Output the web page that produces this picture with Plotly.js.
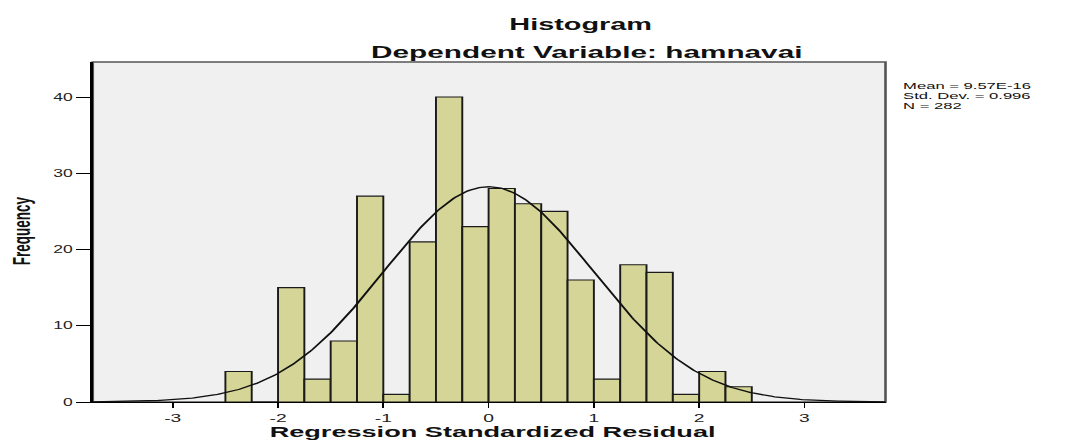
<!DOCTYPE html>
<html>
<head>
<meta charset="utf-8">
<script src="https://cdn.plot.ly/plotly-3.0.1.min.js"></script>
<style>
html,body{margin:0;padding:0;background:#ffffff;overflow:hidden;}
#chart{transform:scaleX(1.75);transform-origin:0 0;}
</style>
</head>
<body>
<div id="chart"></div>
<script>
// ---- data ----
const binLeft = [-2.5,-2.25,-2.0,-1.75,-1.5,-1.25,-1.0,-0.75,-0.5,-0.25,0,0.25,0.5,0.75,1.0,1.25,1.5,1.75,2.0,2.25];
const counts  = [4,0,15,3,8,27,1,21,40,23,28,26,25,16,3,18,17,1,4,2];
const binWidth = 0.25;
const statMean = 9.57e-16;
const statSD = 0.996;
const statN = 282;
const statLines = ["Mean = 9.57E-16", "Std. Dev. = 0.996", "N = 282"];
const xTickVals = [-3,-2,-1,0,1,2,3];
const xTickText = ["-3","-2","-1","0","1","2","3"];
const yTickVals = [0,10,20,30,40];
const yTickText = ["0","10","20","30","40"];
const titleText = "Histogram";
const subtitleText = "Dependent Variable: hamnavai";
const xTitle = "Regression Standardized Residual";
const yTitle = "Frequency";

// ---- geometry (the reference image is horizontally stretched) ----
const S = 1.75;
const W = 1065 / S, H = 441;
const plotL = 93.3 / S, plotR = 884 / S, plotT = 62, plotB = 402;
const mL = plotL, mR = W - plotR, mT = plotT, mB = H - plotB;
const pw = plotR - plotL, ph = plotB - plotT;
const px = xr => (xr / S - plotL) / pw;
const py = yr => (plotB - yr) / ph;

const xRange = [-3.76, 3.77];

// normal curve from the displayed statistics (SPSS normal overlay)
const curveX = [], curveY = [];
const nPts = 400;
for (let i = 0; i <= nPts; i++) {
  const x = xRange[0] + (xRange[1] - xRange[0]) * i / nPts;
  const z = (x - statMean) / statSD;
  curveX.push(x);
  curveY.push(statN * binWidth * Math.exp(-0.5 * z * z) / (statSD * Math.sqrt(2 * Math.PI)));
}

const FONT = "Liberation Sans, Arial, sans-serif";

const traces = [
  {
    type: "bar",
    x: binLeft,
    y: counts,
    width: binWidth,
    offset: 0,
    marker: {color: "rgb(212,213,150)", line: {color: "#1a1a1a", width: 1.1}},
    hoverinfo: "x+y",
    showlegend: false
  },
  {
    type: "scatter",
    mode: "lines",
    x: curveX,
    y: curveY,
    line: {color: "#111111", width: 1.3},
    hoverinfo: "skip",
    showlegend: false
  }
];

const annotations = [
  {text: titleText, xref: "paper", yref: "paper", x: px(580), y: py(24.5), xanchor: "center", yanchor: "middle",
   showarrow: false, font: {family: FONT, size: 16.5, weight: "bold", color: "#111"}},
  {text: subtitleText, xref: "paper", yref: "paper", x: px(586), y: py(52), xanchor: "center", yanchor: "middle",
   showarrow: false, font: {family: FONT, size: 17, weight: "bold", color: "#111"}},
  {text: xTitle, xref: "paper", yref: "paper", x: px(493), y: py(431), xanchor: "center", yanchor: "middle",
   showarrow: false, font: {family: FONT, size: 15.5, weight: "bold", color: "#111"}},
  {text: yTitle, xref: "paper", yref: "paper", x: px(22), y: py(231), xanchor: "center", yanchor: "middle",
   textangle: -90, showarrow: false, font: {family: FONT, size: 13.5, weight: "bold", color: "#111"}}
];
const statY = [85, 95, 105];
statLines.forEach((t, i) => {
  annotations.push({text: t, xref: "paper", yref: "paper", x: px(900), y: py(statY[i]), xanchor: "left", yanchor: "middle",
    showarrow: false, borderpad: 0, font: {family: FONT, size: 9.5, color: "#111"}});
});

const layout = {
  width: W,
  height: H,
  margin: {l: mL, r: mR, t: mT, b: mB, pad: 0},
  paper_bgcolor: "#ffffff",
  plot_bgcolor: "#f0f0f0",
  showlegend: false,
  bargap: 0,
  xaxis: {
    range: xRange, tickvals: xTickVals, ticktext: xTickText,
    ticks: "outside", ticklen: 5, tickwidth: 1, tickcolor: "#000",
    showline: true, linecolor: "#000", linewidth: 1.4,
    showgrid: false, zeroline: false,
    tickfont: {family: FONT, size: 11, color: "#222"}
  },
  yaxis: {
    range: [0, 44.6], tickvals: yTickVals, ticktext: yTickText,
    ticks: "outside", ticklen: 8, tickwidth: 1, tickcolor: "#000",
    showline: true, linecolor: "#000", linewidth: 1.4,
    showgrid: false, zeroline: false,
    tickfont: {family: FONT, size: 10, color: "#222"}
  },
  shapes: [
    {type: "rect", xref: "paper", yref: "paper", x0: 0, x1: 1, y0: 0, y1: 1,
     line: {color: "#555", width: 1.5}, fillcolor: "rgba(0,0,0,0)", layer: "below"}
  ],
  annotations: annotations
};

Plotly.newPlot("chart", traces, layout, {displayModeBar: false, staticPlot: true});
</script>
</body>
</html>
